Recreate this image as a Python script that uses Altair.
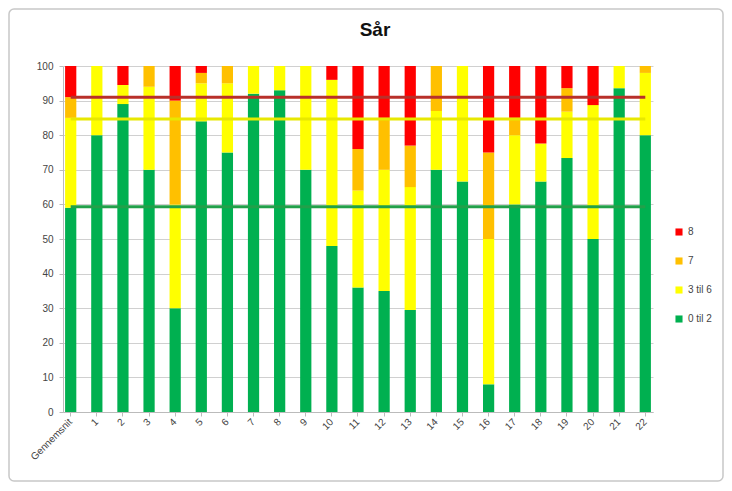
import altair as alt
import pandas as pd

title_text = "Sår"
categories = ["Gennemsnit"] + [str(i) for i in range(1, 23)]
green  = [59, 80, 89, 70, 30, 84, 75, 92, 93, 70, 48, 36, 35, 29.5, 70, 66.6, 8, 60, 66.6, 73.4, 50, 93.6, 80]
yellow = [26, 20, 5.5, 24, 30, 11, 20, 8, 7, 30, 48, 28, 35, 35.5, 17, 33.4, 42, 20, 11, 13.4, 38.7, 6.4, 18]
orange = [6, 0, 0, 6, 30, 3, 5, 0, 0, 0, 0, 12, 15, 12, 13, 0, 25, 5, 0, 6.8, 0, 0, 2]
red    = [9, 0, 5.5, 0, 10, 2, 0, 0, 0, 0, 4, 24, 15, 23, 0, 0, 25, 15, 22.4, 6.4, 11.3, 0, 0]

series_names = ["0 til 2", "3 til 6", "7", "8"]
series_colors = ["#00B050", "#FFFF00", "#FFC000", "#FF0000"]
series_values = [green, yellow, orange, red]

ref_values = [59.3, 84.7, 91]
ref_colors = ["#22A04A", "#E8E800", "#B8302A"]

rows = []
for si, (name, vals) in enumerate(zip(series_names, series_values)):
    for c, v in zip(categories, vals):
        rows.append({"cat": c, "serie": name, "val": v, "order": si})
df = pd.DataFrame(rows)

FONT = "Liberation Sans"
xscale = alt.Scale(domain=categories, paddingInner=0.57, paddingOuter=0.08)
yscale = alt.Scale(domain=[0, 100])

xaxis = alt.Axis(labelAngle=-45, labelAlign="right", labelBaseline="middle",
                 labelFontSize=10, labelColor="#444", domainColor="#BBBBBB",
                 tickColor="#BBBBBB", tickSize=4, labelPadding=4,
                 grid=False, labelOverlap=False)
yaxis = alt.Axis(values=list(range(0, 101, 10)), labelFontSize=10, labelColor="#444",
                 gridColor="#D0D0D0", domainColor="#BBBBBB", tickColor="#BBBBBB",
                 tickSize=4, labelPadding=6)

border = alt.Chart(pd.DataFrame({"a": [0]})).mark_rect(
    fill=None, stroke="#C8C8C8", strokeWidth=1.5, cornerRadius=5, clip=False
).encode(x=alt.value(-54), x2=alt.value(660), y=alt.value(-57), y2=alt.value(415))

title = alt.Chart(pd.DataFrame({"t": [title_text]})).mark_text(
    fontSize=19, fontWeight="bold", font=FONT, color="#111", baseline="middle", align="center"
).encode(x=alt.value(312), y=alt.value(-36), text="t:N")

bars = alt.Chart(df).mark_bar().encode(
    x=alt.X("cat:N", scale=xscale, title=None, axis=xaxis),
    y=alt.Y("val:Q", stack="zero", scale=yscale, title=None, axis=yaxis),
    color=alt.Color("serie:N", scale=alt.Scale(domain=series_names[::-1], range=series_colors[::-1]),
                    legend=alt.Legend(title=None, orient="none", legendX=611, legendY=161,
                                      symbolType="square", symbolSize=50, rowPadding=19,
                                      labelFontSize=10, labelColor="#444", symbolStrokeWidth=0)),
    order=alt.Order("order:Q", sort="ascending"),
)

layers = [border, title, bars]
for v, col in zip(ref_values, ref_colors):
    rdf = pd.DataFrame({"start": [categories[0]], "end": [categories[-1]], "y": [v]})
    layers.append(
        alt.Chart(rdf).mark_rule(strokeWidth=3, color=col).encode(
            x=alt.X("start:N", scale=xscale, title=None, axis=xaxis),
            x2="end:N",
            y=alt.Y("y:Q", scale=yscale, title=None, axis=yaxis),
        )
    )

chart = alt.layer(*layers).properties(
    width=590, height=346,
    autosize=alt.AutoSizeParams(type="none"),
    padding={"left": 55, "top": 58, "right": 71, "bottom": 71},
).configure(font=FONT).configure_view(stroke=None)

chart.save("out.html", embed_options={"renderer": "svg", "actions": False})
